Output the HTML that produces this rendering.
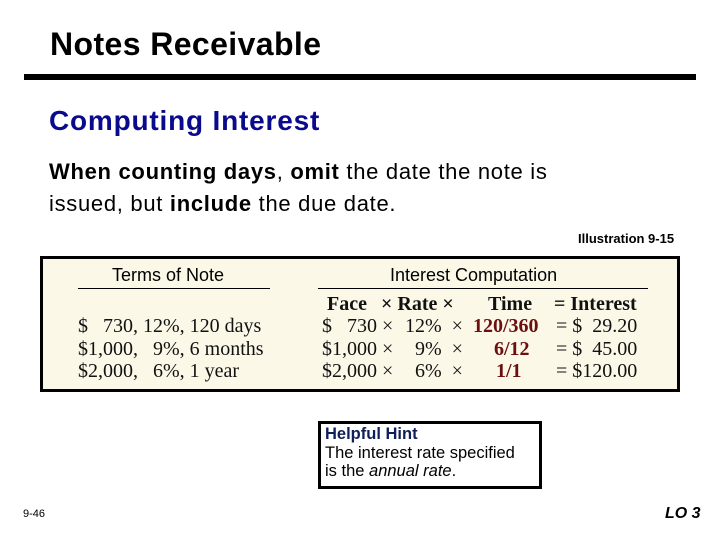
<!DOCTYPE html>
<html><head><meta charset="utf-8"><style>
body{margin:0;width:720px;height:540px;background:#fff;position:relative;overflow:hidden;font-family:"Liberation Sans",sans-serif;}
.a{position:absolute;white-space:nowrap;}
.s{position:absolute;white-space:nowrap;font-family:"Liberation Serif",serif;font-size:20px;color:#111;line-height:22px;}
.b{font-weight:bold;}
.r{color:#6b0f0f;font-weight:bold;}
</style></head><body>
<div class="a" style="left:50px;top:26px;font-size:32px;font-weight:bold;letter-spacing:0.4px;color:#000;">Notes Receivable</div>
<div class="a" style="left:24px;top:74px;width:672px;height:6px;background:#000;"></div>
<div class="a" style="left:49px;top:105px;font-size:28px;font-weight:bold;color:#0a0a8c;letter-spacing:0.8px;">Computing Interest</div>
<div class="a" style="left:49px;top:156px;font-size:22px;line-height:32px;letter-spacing:0.7px;color:#000;"><b>When counting days</b>, <b>omit</b> the date the note is<br>issued, but <b>include</b> the due date.</div>
<div class="a" style="left:578px;top:231px;font-size:13px;font-weight:bold;">Illustration 9-15</div>
<div class="a" style="left:40px;top:256px;width:634px;height:130px;border:3px solid #000;background:#fcf8e8;"></div>
<div class="a" style="left:112px;top:265px;font-size:18px;">Terms of Note</div>
<div class="a" style="left:78px;top:288px;width:192px;height:1px;background:#000;"></div>
<div class="a" style="left:390px;top:265px;font-size:18px;">Interest Computation</div>
<div class="a" style="left:318px;top:288px;width:330px;height:1px;background:#000;"></div>

<div class="s b" style="left:327px;top:293px;">Face</div>
<div class="s b" style="left:381px;top:293px;">× Rate ×</div>
<div class="s b" style="left:488px;top:293px;">Time</div>
<div class="s b" style="left:554px;top:293px;">= Interest</div>

<div class="s" style="left:78px;top:315px;">$ &nbsp;&nbsp;730, 12%, 120 days</div>
<div class="s" style="left:78px;top:338px;">$1,000, &nbsp;&nbsp;9%, 6 months</div>
<div class="s" style="left:78px;top:360px;">$2,000, &nbsp;&nbsp;6%, 1 year</div>

<div class="s" style="left:322px;top:315px;">$ &nbsp;&nbsp;730 ×</div>
<div class="s" style="left:322px;top:338px;">$1,000 ×</div>
<div class="s" style="left:322px;top:360px;">$2,000 ×</div>
<div class="s" style="left:405px;top:315px;">12% &nbsp;×</div>
<div class="s" style="left:415px;top:338px;">9% &nbsp;×</div>
<div class="s" style="left:415px;top:360px;">6% &nbsp;×</div>
<div class="s r" style="left:473px;top:315px;">120/360</div>
<div class="s r" style="left:494px;top:338px;">6/12</div>
<div class="s r" style="left:496px;top:360px;">1/1</div>
<div class="s" style="left:556px;top:315px;">= $ &nbsp;29.20</div>
<div class="s" style="left:556px;top:338px;">= $ &nbsp;45.00</div>
<div class="s" style="left:556px;top:360px;">= $120.00</div>

<div class="a" style="left:318px;top:421px;width:218px;height:62px;border:3px solid #000;background:#fff;">
  <div class="a" style="left:4px;top:1px;font-size:16.5px;line-height:18.5px;color:#000;"><b style="color:#0f1f5a;">Helpful Hint</b><br>The interest rate specified<br>is the <i>annual rate</i>.</div>
</div>
<div class="a" style="left:23px;top:508px;font-size:11px;">9-46</div>
<div class="a" style="left:665px;top:505px;font-size:16px;font-weight:bold;font-style:italic;">LO 3</div>
</body></html>
